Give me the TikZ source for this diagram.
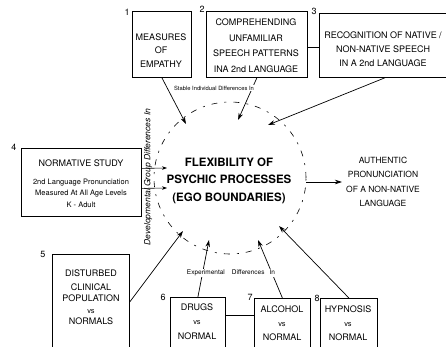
\documentclass[tikz,border=0pt]{standalone}
\usepackage{fontspec}
\setmainfont{TeX Gyre Heros}
\usetikzlibrary{arrows.meta,calc}
\begin{document}
\begin{tikzpicture}[x=1pt,y=-1pt,
  box/.style={draw, line width=0.8pt, anchor=north west, inner sep=0pt},
  txt/.style={align=center, inner sep=0pt},
  arr/.style={line width=0.7pt, -{Stealth[length=7pt,width=4.5pt]}},
  sarr/.style={line width=0.6pt, -{Stealth[length=5pt,width=3.5pt]}},
  num/.style={font=\fontsize{9}{9}\selectfont, inner sep=0pt},
  tag/.style={fill=white, inner sep=1pt},
  ring/.style={draw, circle, line width=0.6pt, dash pattern=on 6pt off 7pt on 2pt off 7pt, minimum size=152pt, inner sep=0pt}]
\useasboundingbox (0,0) rectangle (446,347);

% boxes
\node[box, minimum width=59pt, minimum height=66pt] (b1) at (132,11) {};
\node[box, minimum width=101pt, minimum height=66pt] (b2) at (206,11) {};
\node[box, minimum width=131pt, minimum height=64pt] (b3) at (319,13) {};
\node[box, minimum width=120pt, minimum height=68pt] (b4) at (21,148) {};
\node[box, minimum width=77pt, minimum height=95pt] (b5) at (52,254) {};
\node[box, minimum width=55pt, minimum height=52pt] (b6) at (170,297) {};
\node[box, minimum width=56pt, minimum height=51pt] (b7) at (254,298) {};
\node[box, minimum width=57pt, minimum height=51pt] (b8) at (320,298) {};

% box texts
\node[txt, font=\fontsize{9}{13.5}\selectfont] (t1) at (161,50.5) {MEASURES\\OF\\EMPATHY};
\node[txt, font=\fontsize{9}{15.5}\selectfont] (t2) at (256,45.5) {COMPREHENDING\\UNFAMILIAR\\SPEECH PATTERNS\\INA 2nd LANGUAGE};
\node[txt, font=\fontsize{9}{14}\selectfont] (t3) at (383,49) {RECOGNITION OF NATIVE /\\NON-NATIVE SPEECH\\IN A 2nd LANGUAGE};
\node[txt, font=\fontsize{7.5}{11.5}\selectfont] (t4) at (81,183.5) {{\fontsize{9}{9}\selectfont NORMATIVE STUDY}\\[6pt]2nd Language Pronunciation\\Measured At All Age Levels\\K - Adult};
\node[txt, font=\fontsize{9}{11.5}\selectfont] (t5) at (91,297.5) {DISTURBED\\[2pt]CLINICAL\\POPULATION\\{\fontsize{7.5}{9}\selectfont vs}\\NORMALS};
\node[txt, font=\fontsize{9}{14.5}\selectfont] (t6) at (197,321.5) {DRUGS\\{\fontsize{7.5}{9}\selectfont vs}\\NORMAL};
\node[txt, font=\fontsize{9}{14}\selectfont] (t7) at (282,323) {ALCOHOL\\{\fontsize{7.5}{9}\selectfont vs}\\NORMAL};
\node[txt, font=\fontsize{9}{14}\selectfont] (t8) at (348,323) {HYPNOSIS\\{\fontsize{7.5}{9}\selectfont vs}\\NORMAL};

% numbers
\node[num] (n1) at (127,12) {1};
\node[num] (n2) at (202,9) {2};
\node[num] (n3) at (314,11) {3};
\node[num] (n4) at (14,147) {4};
\node[num] (n5) at (43,254) {5};
\node[num] (n6) at (163,297) {6};
\node[num] (n7) at (250,297) {7};
\node[num] (n8) at (317,298) {8};

% central circle and text
\node[ring] (circ) at (230,178) {};
\node[txt, font=\bfseries\fontsize{11.5}{17.5}\selectfont] (flex) at (229,180.5) {FLEXIBILITY OF\\PSYCHIC PROCESSES\\(EGO BOUNDARIES)};

\node[txt, font=\fontsize{8.5}{14.5}\selectfont] (auth) at (383,182) {AUTHENTIC\\PRONUNCIATION\\OF A NON-NATIVE\\LANGUAGE};

% arrow endpoints
\coordinate (e1) at (186,124);
\coordinate (e2) at (238,120);
\coordinate (e3) at (268,125);
\coordinate (e4a) at (167,168);
\coordinate (e4b) at (167,188);
\coordinate (e5) at (183,231);
\coordinate (e6) at (209,240);
\coordinate (e7) at (258,240);
\coordinate (e8) at (279,226);

% connectors
\draw[line width=0.8pt] ([yshift=-3pt]b2.east) -- ([yshift=-3pt]b2.east -| b3.west);
\draw[line width=0.8pt] ([yshift=8pt]b6.east) -- ([yshift=8pt]b6.east -| b7.west);

\draw[arr] (b1.south) -- (e1);
\draw[arr] (b2.south) -- (e2);
\draw[arr] (b3.south) -- (e3);
\draw[arr] (b5.east) -- (e5);
\draw[arr] (b6.north) -- (e6);
\draw[arr] (b7.north) -- (e7);
\draw[arr] (b8.north) -- (e8);
\draw[arr] (circ.east |- auth.west) -- ([xshift=-4pt]auth.west);

% labels on connectors
\node[tag, font=\fontsize{5.8}{6}\selectfont] (lstable) at (214,88) {Stable Individual Differences In};
\node[tag, font=\fontsize{6.5}{7}\selectfont] (lexp) at (231,273) {Experimental\hspace{7pt}Differences\hspace{5pt}In};
\node[inner sep=0pt, rotate=90, font=\itshape\fontsize{8.5}{9}\selectfont] (ldev) at (148,177) {Developmental Group Differences In};

\draw[sarr] ([yshift=14pt]b4.east) -- (e4a);
\draw[sarr] ([yshift=-6pt]b4.east) -- (e4b);
\end{tikzpicture}
\end{document}
